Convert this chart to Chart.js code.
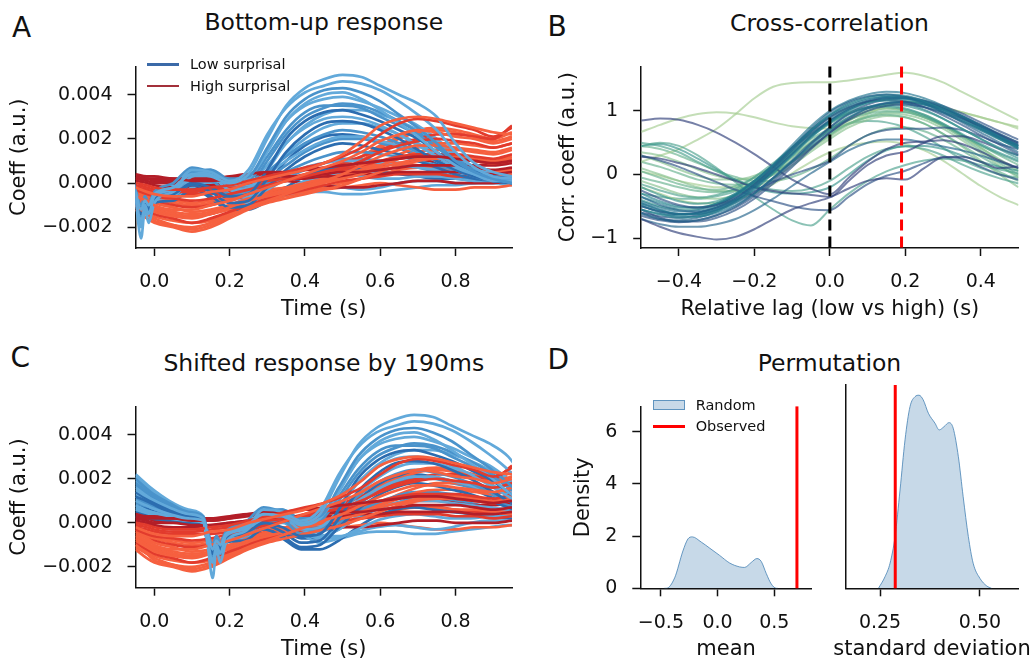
<!DOCTYPE html>
<html>
<head>
<meta charset="utf-8">
<script src="https://cdn.jsdelivr.net/npm/chart.js@4.4.1/dist/chart.umd.min.js"></script>
<style>
  html, body { margin: 0; padding: 0; width: 1032px; height: 659px; overflow: hidden; background: #fff; }
  body { position: relative; font-family: "DejaVu Sans", sans-serif; color: #111; }
  canvas { position: absolute; }
  .txt { position: absolute; white-space: nowrap; line-height: 1; }
  .letter { font-size: 28px; }
  .title { font-size: 23.5px; width: 420px; text-align: center; }
  .leg { font-size: 14.5px; }
  .axlabel { font-size: 21px; width: 300px; text-align: center; }
  .handle { position: absolute; width: 32px; }
</style>
</head>
<body>
<div class="txt letter" style="left:12px;top:13.8px">A</div>
<div class="txt letter" style="left:547.5px;top:13px">B</div>
<div class="txt letter" style="left:10.5px;top:344.3px">C</div>
<div class="txt letter" style="left:547.5px;top:346.3px">D</div>

<div class="txt title" style="left:113.75px;top:11px">Bottom-up response</div>
<div class="txt title" style="left:619.5px;top:12px">Cross-correlation</div>
<div class="txt title" style="left:113.75px;top:352px">Shifted response by 190ms</div>
<div class="txt title" style="left:619.5px;top:352px">Permutation</div>

<canvas id="panelA"></canvas>
<canvas id="panelB"></canvas>
<canvas id="panelC"></canvas>
<canvas id="panelDmean"></canvas>
<canvas id="panelDstd"></canvas>

<!-- legend, panel A -->
<div class="handle" style="left:147px;top:63px;height:2.6px;background:#3b6aa8"></div>
<div class="txt leg" style="left:190px;top:57.4px">Low surprisal</div>
<div class="handle" style="left:147px;top:84.8px;height:2.6px;background:#a3303a"></div>
<div class="txt leg" style="left:190px;top:79.2px">High surprisal</div>

<!-- legend, panel D -->
<div class="handle" style="left:653px;top:400px;height:10px;box-sizing:border-box;background:#c8d9e8;border:1px solid rgba(70,130,180,0.8)"></div>
<div class="txt leg" style="left:695.7px;top:397.6px">Random</div>
<div class="handle" style="left:653px;top:425.2px;height:3px;background:#ff0000"></div>
<div class="txt leg" style="left:695.7px;top:419.4px">Observed</div>

<div class="txt axlabel" style="left:782px;top:637.5px">standard deviation</div>

<script>
// ---- data ----

// time (s) of each sample
const timeLow = [-0.24, -0.2, -0.15, -0.1, -0.06, -0.05, -0.035, -0.025, -0.015, 0, 0.05, 0.1, 0.15, 0.2,
  0.25, 0.3, 0.35, 0.4, 0.45, 0.5, 0.55, 0.6, 0.65, 0.7, 0.75, 0.8, 0.85, 0.9, 0.95];
const timeHigh = [-0.05, -0.02, 0, 0.05, 0.1, 0.15, 0.2, 0.25, 0.3, 0.35, 0.4, 0.45, 0.5, 0.55, 0.6,
  0.65, 0.7, 0.75, 0.8, 0.85, 0.9, 0.95];

// lag (s) that aligns low with high surprisal responses
const peakLag = 0.19;

// response coefficients, one row per subject, in units of 1e-4
const COEFF_UNIT = 1e-4;
const lowSurprisal = [
  [15, 11, 7, 4, 2, -4, -12, -8, -10, -5, -2, 4, 3, 0, 4, 20, 35, 43, 47, 49, 48, 44, 40, 36, 30, 18, 9, 5, 3],
  [10, 7, 4, 2, 1, -6, -18, -10, -14, -6, -3, 6, 5, 1, 6, 22, 34, 41, 44, 46, 45, 42, 37, 31, 24, 14, 7, 3, 2],
  [20, 14, 9, 5, 3, -3, -10, -6, -9, -4, 0, 7, 5, 2, 3, 16, 30, 38, 42, 43, 41, 37, 31, 25, 18, 10, 5, 2, 0],
  [8, 5, 3, 1, 0, -8, -25, -12, -18, -9, -4, 3, 4, -1, 2, 14, 28, 36, 40, 41, 38, 33, 27, 21, 14, 8, 4, 1, 1],
  [12, 9, 5, 3, 2, -5, -14, -9, -12, -7, -5, 0, -2, -6, -5, 6, 20, 28, 32, 33, 31, 28, 24, 20, 14, 9, 5, 3, 2],
  [18, 13, 8, 4, 2, -4, -15, -8, -12, -6, -3, 5, 6, 0, 1, 12, 24, 32, 35, 35, 34, 30, 26, 22, 16, 10, 6, 3, 2],
  [6, 4, 2, 1, 0, -7, -16, -9, -13, -8, -6, 2, 3, -3, -2, 6, 18, 25, 29, 30, 29, 26, 22, 17, 12, 7, 4, 2, 0],
  [14, 10, 6, 3, 1, -4, -11, -7, -10, -6, -4, -1, -4, -9, -8, 2, 14, 22, 27, 28, 27, 24, 20, 15, 10, 6, 3, 1, 0],
  [9, 7, 4, 2, 1, -6, -13, -8, -11, -7, -6, 0, 1, -5, -3, 5, 12, 18, 22, 24, 23, 21, 18, 14, 10, 6, 3, 1, 1],
  [22, 16, 10, 6, 3, -3, -12, -7, -10, -5, -2, 5, 4, -1, -1, 4, 10, 15, 19, 21, 21, 19, 17, 14, 10, 7, 4, 3, 2],
  [5, 3, 1, 0, -1, -8, -17, -10, -14, -9, -8, -3, -6, -11, -10, -2, 6, 12, 16, 18, 17, 15, 13, 10, 7, 4, 2, 1, 0],
  [11, 8, 5, 3, 2, -5, -13, -8, -11, -6, -3, 3, 4, -2, -4, 0, 5, 9, 12, 14, 14, 13, 12, 10, 8, 6, 4, 2, 1],
  [16, 11, 7, 4, 2, -4, -20, -10, -15, -7, -5, 2, 5, -2, -6, -3, 3, 7, 9, 10, 10, 9, 8, 7, 6, 5, 3, 2, 1],
  [7, 5, 3, 1, 0, -9, -15, -9, -12, -8, -7, -2, 0, -5, -9, -7, -3, 1, 3, 4, 3, 2, 2, 3, 3, 2, 1, 1, 0],
  [13, 9, 6, 3, 1, -5, -12, -8, -11, -6, -4, 2, 3, -3, -6, -6, -4, -2, -1, -2, -3, -2, 0, 1, 1, 0, 0, 1, 0],
  [3, 2, 1, 0, -1, -6, -14, -9, -12, -8, -7, -2, -7, -12, -12, -8, -2, 3, 6, 7, 6, 5, 4, 3, 2, 2, 1, 1, 0],
  [10, 7, 4, 2, 0, -7, -18, -11, -15, -9, -7, -1, 1, -4, -7, -7, -5, -4, -4, -5, -5, -4, -3, -2, -1, -1, 0, 0, -1],
  [17, 12, 8, 4, 2, -4, -10, -7, -9, -5, -3, 4, 6, 1, -2, 2, 8, 14, 18, 20, 20, 18, 16, 13, 10, 7, 4, 2, 1],
  [14, 10, 6, 3, 1, -5, -13, -8, -11, -6, -3, 3, 3, -2, -1, 10, 22, 30, 34, 36, 35, 32, 28, 23, 17, 11, 6, 3, 1],
  [19, 14, 9, 5, 2, -4, -11, -7, -10, -5, -2, 4, 4, 0, 2, 15, 28, 35, 38, 39, 37, 34, 30, 26, 20, 13, 7, 4, 2],
  [8, 6, 3, 1, 0, -6, -14, -9, -12, -7, -5, 0, -3, -7, -7, 0, 10, 17, 21, 22, 21, 19, 16, 12, 9, 6, 3, 1, 0],
  [12, 8, 5, 2, 1, -6, -16, -9, -13, -7, -4, 3, 3, -2, -3, 3, 13, 20, 25, 27, 27, 25, 22, 18, 13, 8, 4, 2, 1],
  [6, 4, 2, 1, 0, -7, -15, -9, -12, -7, -5, 1, 2, -4, -6, -3, 2, 6, 9, 11, 11, 10, 9, 7, 5, 3, 2, 1, 0],
  [21, 15, 9, 5, 2, -3, -9, -6, -8, -4, -1, 5, 5, 1, 0, 8, 18, 26, 31, 33, 33, 31, 28, 24, 19, 12, 6, 3, 2]
];
const highSurprisal = [
  [-2, -4, -5, -6, -6, -4, -3, 0, 2, 4, 6, 9, 13, 19, 26, 29, 30, 29, 27, 25, 23, 22],
  [0, -1, -2, -3, -3, -2, -1, 1, 3, 5, 7, 9, 12, 16, 22, 27, 29, 28, 26, 24, 21, 25],
  [-6, -8, -10, -12, -12, -10, -8, -5, -2, 1, 4, 7, 10, 14, 19, 22, 24, 23, 21, 20, 18, 20],
  [3, 2, 2, 2, 1, 1, 2, 4, 5, 5, 6, 7, 8, 9, 10, 11, 12, 12, 11, 10, 9, 10],
  [-10, -14, -16, -19, -21, -19, -15, -11, -8, -5, -2, 1, 4, 8, 12, 15, 17, 17, 16, 15, 14, 16],
  [-3, -5, -6, -7, -8, -7, -5, -3, -1, 1, 3, 5, 7, 10, 14, 17, 19, 20, 19, 18, 16, 18],
  [4, 3, 3, 2, 2, 2, 3, 4, 4, 3, 3, 4, 5, 5, 6, 7, 8, 8, 8, 7, 6, 7],
  [-12, -16, -18, -20, -22, -20, -16, -12, -9, -7, -5, -3, -1, 2, 5, 8, 10, 11, 11, 10, 9, 11],
  [-1, -2, -3, -4, -4, -3, -2, 0, 1, 2, 3, 4, 6, 8, 10, 12, 13, 13, 13, 12, 11, 13],
  [-8, -11, -13, -15, -16, -14, -11, -8, -6, -4, -2, 0, 2, 4, 7, 9, 11, 12, 12, 11, 10, 12],
  [2, 1, 0, 0, -1, -1, 0, 1, 2, 2, 2, 3, 3, 4, 4, 5, 5, 5, 5, 4, 4, 5],
  [-5, -7, -9, -11, -13, -12, -10, -7, -5, -3, -1, 1, 3, 5, 8, 11, 14, 15, 15, 14, 13, 15],
  [-9, -12, -14, -16, -18, -16, -13, -10, -7, -5, -3, -1, 1, 2, 3, 4, 4, 4, 3, 3, 2, 3],
  [-4, -6, -7, -8, -9, -8, -7, -5, -3, -2, 0, 2, 4, 6, 9, 13, 16, 18, 18, 17, 16, 18],
  [1, 0, -1, -2, -2, -1, 0, 1, 2, 1, 0, -1, -2, -2, -1, 0, 1, 1, 0, 0, 0, 1],
  [-7, -10, -12, -14, -15, -14, -12, -9, -7, -5, -4, -3, -2, -1, 0, -1, -2, -3, -3, -2, -2, -1],
  [-2, -3, -4, -5, -5, -5, -4, -2, 0, 2, 4, 6, 9, 12, 15, 18, 20, 22, 22, 21, 20, 26],
  [-11, -14, -17, -19, -20, -18, -14, -10, -6, -3, 0, 2, 5, 7, 9, 9, 8, 6, 5, 4, 3, 4],
  [-6, -9, -11, -13, -14, -13, -10, -7, -4, -2, 0, 3, 6, 10, 16, 20, 23, 24, 23, 21, 19, 21],
  [-4, -6, -8, -10, -11, -10, -8, -6, -4, -2, 0, 2, 4, 6, 9, 11, 12, 12, 11, 10, 9, 10],
  [2, 2, 1, 1, 1, 1, 2, 3, 4, 5, 6, 6, 6, 7, 8, 9, 10, 10, 9, 8, 8, 9],
  [-10, -13, -15, -17, -18, -17, -14, -11, -8, -6, -4, -2, 0, 2, 4, 6, 7, 7, 6, 6, 5, 6],
  [-3, -5, -7, -9, -10, -9, -7, -4, -1, 1, 3, 5, 8, 12, 17, 21, 24, 25, 24, 22, 20, 23],
  [-7, -10, -12, -14, -15, -14, -11, -8, -5, -3, -1, 1, 3, 5, 6, 7, 7, 7, 6, 5, 5, 6]
];

// relative lag (s) and cross-correlation per subject
const lags = [-0.5, -0.45, -0.4, -0.35, -0.3, -0.25, -0.2, -0.15, -0.1, -0.05, 0, 0.05, 0.1, 0.15, 0.2,
  0.25, 0.3, 0.35, 0.4, 0.45, 0.5];
const crossCorr = [
  [-0.45, -0.55, -0.62, -0.62, -0.55, -0.4, -0.18, 0.08, 0.38, 0.68, 0.92, 1.08, 1.18, 1.22, 1.2, 1.12, 1.0, 0.86, 0.72, 0.58, 0.45],
  [-0.35, -0.48, -0.56, -0.58, -0.52, -0.38, -0.15, 0.12, 0.42, 0.72, 0.98, 1.14, 1.23, 1.26, 1.22, 1.12, 0.98, 0.82, 0.66, 0.5, 0.35],
  [-0.55, -0.63, -0.68, -0.66, -0.58, -0.44, -0.24, 0.02, 0.3, 0.58, 0.82, 1.0, 1.12, 1.18, 1.17, 1.1, 0.98, 0.84, 0.7, 0.55, 0.42],
  [-0.25, -0.38, -0.48, -0.52, -0.48, -0.36, -0.16, 0.1, 0.38, 0.66, 0.9, 1.06, 1.15, 1.18, 1.15, 1.06, 0.93, 0.78, 0.62, 0.47, 0.32],
  [-0.6, -0.7, -0.74, -0.72, -0.64, -0.5, -0.3, -0.05, 0.22, 0.5, 0.74, 0.94, 1.06, 1.12, 1.12, 1.06, 0.96, 0.84, 0.7, 0.56, 0.42],
  [-0.42, -0.52, -0.58, -0.56, -0.48, -0.32, -0.1, 0.16, 0.46, 0.76, 1.0, 1.16, 1.26, 1.3, 1.28, 1.2, 1.08, 0.92, 0.76, 0.6, 0.45],
  [-0.65, -0.72, -0.75, -0.72, -0.64, -0.52, -0.34, -0.1, 0.16, 0.42, 0.66, 0.86, 1.0, 1.08, 1.1, 1.06, 0.98, 0.88, 0.76, 0.63, 0.5],
  [-0.3, -0.42, -0.5, -0.52, -0.46, -0.32, -0.12, 0.14, 0.42, 0.7, 0.94, 1.1, 1.2, 1.24, 1.22, 1.14, 1.02, 0.88, 0.72, 0.56, 0.4],
  [-0.5, -0.58, -0.62, -0.6, -0.52, -0.38, -0.18, 0.06, 0.32, 0.6, 0.84, 1.02, 1.14, 1.2, 1.2, 1.14, 1.04, 0.92, 0.78, 0.64, 0.5],
  [-0.48, -0.6, -0.66, -0.66, -0.6, -0.48, -0.3, -0.06, 0.2, 0.46, 0.7, 0.9, 1.04, 1.12, 1.14, 1.1, 1.02, 0.9, 0.76, 0.6, 0.45],
  [-0.4, -0.5, -0.55, -0.54, -0.46, -0.33, -0.14, 0.1, 0.35, 0.6, 0.8, 0.96, 1.06, 1.1, 1.08, 1.0, 0.88, 0.72, 0.56, 0.4, 0.25],
  [-0.55, -0.68, -0.74, -0.74, -0.68, -0.56, -0.38, -0.14, 0.12, 0.4, 0.66, 0.88, 1.04, 1.12, 1.14, 1.1, 1.02, 0.9, 0.76, 0.62, 0.48],
  [-0.35, -0.45, -0.52, -0.52, -0.45, -0.3, -0.1, 0.15, 0.42, 0.68, 0.9, 1.05, 1.14, 1.16, 1.12, 1.02, 0.88, 0.72, 0.56, 0.42, 0.3],
  [-0.62, -0.7, -0.72, -0.68, -0.58, -0.42, -0.2, 0.06, 0.34, 0.62, 0.86, 1.04, 1.16, 1.22, 1.22, 1.16, 1.06, 0.92, 0.78, 0.62, 0.46],
  [-0.45, -0.56, -0.62, -0.62, -0.55, -0.42, -0.22, 0.04, 0.32, 0.6, 0.84, 1.02, 1.14, 1.2, 1.2, 1.14, 1.04, 0.9, 0.74, 0.58, 0.42],
  [-0.55, -0.62, -0.64, -0.6, -0.5, -0.34, -0.12, 0.14, 0.42, 0.7, 0.94, 1.12, 1.22, 1.26, 1.24, 1.16, 1.04, 0.9, 0.74, 0.58, 0.44],
  [-0.6, -0.66, -0.68, -0.64, -0.56, -0.44, -0.28, -0.06, 0.2, 0.48, 0.74, 0.96, 1.1, 1.18, 1.2, 1.16, 1.08, 0.96, 0.82, 0.68, 0.55],
  [0.85, 0.88, 0.86, 0.78, 0.66, 0.5, 0.32, 0.12, -0.08, -0.22, -0.31, -0.05, 0.2, 0.4, 0.5, 0.52, 0.54, 0.48, 0.36, 0.22, 0.1],
  [-0.7, -0.82, -0.92, -0.98, -1.02, -0.98, -0.86, -0.7, -0.55, -0.45, -0.36, -0.22, -0.1, -0.06, -0.08, 0.1, 0.27, 0.28, 0.2, 0.1, 0.13],
  [0.3, 0.22, 0.12, 0.0, -0.12, -0.24, -0.34, -0.42, -0.5, -0.55, -0.56, -0.35, -0.15, -0.02, 0.06, 0.18, 0.27, 0.25, 0.12, 0.0, -0.08],
  [-0.5, -0.58, -0.62, -0.6, -0.52, -0.4, -0.26, -0.12, 0.0, 0.1, 0.22, 0.45, 0.62, 0.7, 0.72, 0.72, 0.74, 0.7, 0.6, 0.48, 0.4],
  [0.28, 0.25, 0.18, 0.1, 0.0, -0.1, -0.2, -0.26, -0.3, -0.32, -0.35, -0.1, 0.15, 0.3, 0.36, 0.5, 0.6, 0.6, 0.52, 0.4, 0.3],
  [-0.7, -0.78, -0.82, -0.82, -0.78, -0.7, -0.56, -0.38, -0.18, 0.02, 0.2, 0.38, 0.5, 0.55, 0.55, 0.5, 0.44, 0.38, 0.3, 0.2, 0.1],
  [-0.2, -0.32, -0.42, -0.46, -0.42, -0.3, -0.1, 0.14, 0.4, 0.64, 0.84, 0.98, 1.06, 1.08, 1.04, 0.94, 0.8, 0.64, 0.48, 0.34, 0.22],
  [-0.15, -0.25, -0.33, -0.36, -0.32, -0.22, -0.04, 0.18, 0.42, 0.64, 0.82, 0.96, 1.04, 1.06, 1.02, 0.92, 0.78, 0.62, 0.46, 0.32, 0.2],
  [0.45, 0.5, 0.45, 0.3, 0.1, -0.12, -0.35, -0.55, -0.72, -0.8, -0.55, -0.3, -0.1, 0.05, 0.15, 0.22, 0.25, 0.22, 0.15, 0.08, 0.02],
  [0.45, 0.48, 0.4, 0.25, 0.08, -0.08, -0.2, -0.28, -0.3, -0.28, -0.2, 0.0, 0.22, 0.38, 0.45, 0.45, 0.4, 0.3, 0.2, 0.12, 0.06],
  [0.5, 0.45, 0.35, 0.2, 0.05, -0.08, -0.18, -0.24, -0.26, -0.22, -0.1, 0.1, 0.28, 0.4, 0.44, 0.4, 0.3, 0.16, 0.04, -0.06, -0.14],
  [0.05, -0.05, -0.15, -0.22, -0.24, -0.18, -0.05, 0.14, 0.36, 0.56, 0.72, 0.86, 0.96, 1.0, 0.98, 0.9, 0.78, 0.62, 0.46, 0.3, 0.15],
  [-0.05, -0.12, -0.2, -0.26, -0.28, -0.24, -0.14, 0.02, 0.22, 0.44, 0.64, 0.8, 0.9, 0.94, 0.9, 0.8, 0.64, 0.46, 0.28, 0.12, -0.02],
  [0.35, 0.3, 0.2, 0.08, -0.02, -0.08, -0.06, 0.04, 0.2, 0.4, 0.6, 0.78, 0.9, 0.96, 0.94, 0.86, 0.72, 0.54, 0.34, 0.14, -0.05],
  [0.2, 0.3, 0.4, 0.55, 0.72, 0.95, 1.2, 1.38, 1.44, 1.45, 1.45, 1.48, 1.52, 1.57, 1.6, 1.55, 1.45, 1.3, 1.15, 1.0, 0.85],
  [0.67, 0.78, 0.88, 0.95, 0.98, 0.96, 0.9, 0.82, 0.76, 0.73, 0.72, 0.8, 0.95, 1.08, 1.15, 1.12, 1.05, 0.98, 0.9, 0.82, 0.72],
  [0.3, 0.2, 0.08, -0.02, -0.08, -0.08, -0.02, 0.12, 0.32, 0.52, 0.7, 0.86, 0.98, 1.04, 1.02, 0.94, 0.8, 0.62, 0.42, 0.22, 0.05],
  [0.1, 0.0, -0.1, -0.2, -0.26, -0.26, -0.2, -0.06, 0.14, 0.36, 0.56, 0.74, 0.86, 0.92, 0.9, 0.8, 0.64, 0.44, 0.22, 0.0, -0.2],
  [-0.2, -0.3, -0.4, -0.45, -0.45, -0.4, -0.3, -0.15, 0.02, 0.2, 0.35, 0.45, 0.5, 0.52, 0.48, 0.38, 0.22, 0.02, -0.18, -0.35, -0.48],
  [0.45, 0.4, 0.3, 0.18, 0.06, -0.04, -0.1, -0.1, -0.04, 0.08, 0.25, 0.45, 0.62, 0.72, 0.74, 0.68, 0.55, 0.38, 0.2, 0.04, -0.1],
  [-0.1, -0.2, -0.3, -0.36, -0.38, -0.32, -0.18, 0.02, 0.26, 0.5, 0.72, 0.9, 1.0, 1.04, 1.0, 0.9, 0.76, 0.6, 0.42, 0.24, 0.08],
  [0.2, 0.12, 0.02, -0.08, -0.14, -0.16, -0.12, 0.0, 0.2, 0.42, 0.62, 0.8, 0.92, 0.98, 0.98, 0.9, 0.76, 0.58, 0.38, 0.18, 0.0],
  [0.05, -0.02, -0.1, -0.16, -0.2, -0.2, -0.14, 0.0, 0.2, 0.42, 0.64, 0.84, 1.0, 1.1, 1.14, 1.12, 1.06, 0.98, 0.9, 0.82, 0.75],
  [-0.3, -0.35, -0.38, -0.38, -0.34, -0.26, -0.12, 0.06, 0.28, 0.5, 0.68, 0.8, 0.84, 0.82, 0.74, 0.6, 0.42, 0.24, 0.1, 0.0, -0.05]
];

// permutation test: density of the random statistics and the observed value
const meanGrid = [-0.47, -0.452, -0.379, -0.306, -0.262, -0.223, -0.144, -0.07, 0.018, 0.106, 0.194, 0.238,
  0.297, 0.347, 0.385, 0.429, 0.473, 0.518, 0.53];
const meanDensity = [0, 0, 0.4, 1.43, 1.89, 1.97, 1.77, 1.54, 1.26, 0.97, 0.82, 0.8, 0.99, 1.14, 1.03, 0.57, 0.17, 0, 0];
const stdGrid = [0.246, 0.2625, 0.275, 0.2875, 0.3, 0.3125, 0.325, 0.3375, 0.3475, 0.358, 0.371, 0.3875,
  0.398, 0.41, 0.4225, 0.433, 0.446, 0.458, 0.471, 0.483, 0.5, 0.517, 0.529];
const stdDensity = [0, 0.4, 0.86, 1.77, 3.37, 5.09, 6.23, 6.57, 6.62, 6.46, 6.0, 5.66, 5.43, 5.54, 5.68, 5.49,
  4.51, 3.14, 1.77, 0.86, 0.34, 0.08, 0];
const observedMean = 0.70;
const observedStd = 0.288;

// ---- styling ----
const INK = '#111';
const blues = ['#62a9da', '#4a93cb', '#2c6db0'];
const reds = ['#f6603f', '#e23b2d', '#b31e28'];
const lowShade = [0, 0, 1, 0, 2, 1, 0, 2, 1, 0, 2, 1, 0, 0, 0, 2, 0, 1, 1, 0, 2, 0, 1, 0];
const highShade = [0, 1, 0, 2, 0, 1, 2, 0, 1, 0, 2, 0, 1, 0, 2, 0, 1, 0, 0, 1, 2, 0, 0, 1];
const crest = ['#a5cd90', '#86c08e', '#66b18e', '#4da28e', '#37938e', '#27838f', '#1f728e', '#22628a', '#2a4f83', '#2d3c78'];
const corrShade = [6, 7, 5, 8, 7, 6, 8, 5, 7, 6, 4, 8, 5, 7, 6, 5, 8,
  9, 9, 8, 8, 9, 7, 4, 3, 3, 4, 3, 2, 2, 1, 0, 0, 1, 1, 0, 2, 1, 2, 0, 3];

Chart.defaults.font.family = '"DejaVu Sans", sans-serif';
Chart.defaults.color = INK;

const minusSign = s => s.replace('-', '\u2212');
const fixed = d => v => minusSign(v.toFixed(d));

// vertical reference lines spanning the whole plot height
const vLinePlugin = {
  id: 'vLines',
  afterDatasetsDraw(chart, args, opts) {
    const { ctx, chartArea, scales } = chart;
    (opts.lines || []).forEach(l => {
      const px = scales.x.getPixelForValue(l.value);
      ctx.save();
      ctx.strokeStyle = l.color;
      ctx.lineWidth = l.width;
      ctx.setLineDash(l.dash || []);
      ctx.beginPath();
      ctx.moveTo(px, chartArea.top);
      ctx.lineTo(px, chartArea.bottom);
      ctx.stroke();
      ctx.restore();
    });
  }
};

function axis(o) {
  const left = o.position === 'left';
  return {
    type: 'linear',
    position: o.position,
    min: o.min,
    max: o.max,
    afterBuildTicks: s => { s.ticks = o.ticks.map(v => ({ value: v })); },
    afterFit: s => { if (left) s.width = o.size; else s.height = o.size; },
    ticks: {
      display: !o.hideTicks, callback: o.format, font: { size: 19 }, color: INK,
      padding: 15, maxRotation: 0, autoSkip: false
    },
    grid: { drawOnChartArea: false, drawTicks: !o.hideTicks, tickLength: 8, tickWidth: 1.5, tickColor: INK },
    border: { display: true, color: INK, width: 1.5 },
    title: { display: !!o.title, text: o.title || '', font: { size: 21 }, color: INK, padding: 0 }
  };
}

// box: canvas rectangle on the page, area: plot rectangle on the page
function panel(id, box, area, datasets, xOpts, yOpts, lines) {
  const canvas = document.getElementById(id);
  canvas.width = box.w;
  canvas.height = box.h;
  canvas.style.left = box.x + 'px';
  canvas.style.top = box.y + 'px';
  xOpts.position = 'bottom';
  xOpts.size = box.y + box.h - area.bottom;
  yOpts.position = 'left';
  yOpts.size = area.left - box.x;
  return new Chart(canvas, {
    type: 'line',
    data: { datasets },
    options: {
      responsive: false,
      animation: false,
      events: [],
      layout: { padding: { left: 0, bottom: 0, top: area.top - box.y, right: box.x + box.w - area.right } },
      elements: { point: { radius: 0 } },
      plugins: { legend: { display: false }, tooltip: { enabled: false }, vLines: { lines: lines || [] } },
      scales: { x: axis(xOpts), y: axis(yOpts) }
    },
    plugins: [vLinePlugin]
  });
}

function trace(times, values, shift, unit, color, width) {
  return {
    data: values.map((v, j) => ({ x: times[j] + shift, y: v * unit })),
    borderColor: color,
    borderWidth: width,
    cubicInterpolationMode: 'monotone',
    fill: false,
    pointRadius: 0
  };
}

// low and high surprisal traces, interleaved so neither group sits fully on top
function responseSets(lowShift) {
  const sets = [];
  const n = Math.max(lowSurprisal.length, highSurprisal.length);
  for (let i = 0; i < n; i++) {
    if (highSurprisal[i]) sets.push(trace(timeHigh, highSurprisal[i], 0, COEFF_UNIT, reds[highShade[i]], 2.7));
    if (lowSurprisal[i]) sets.push(trace(timeLow, lowSurprisal[i], lowShift, COEFF_UNIT, blues[lowShade[i]], 2.7));
  }
  return sets;
}

function hexAlpha(hex, a) {
  const n = parseInt(hex.slice(1), 16);
  return `rgba(${n >> 16}, ${(n >> 8) & 255}, ${n & 255}, ${a})`;
}

function densitySet(grid, dens) {
  return {
    data: grid.map((g, j) => ({ x: g, y: dens[j] })),
    borderColor: 'rgba(70, 130, 180, 0.8)',
    borderWidth: 1,
    backgroundColor: 'rgba(70, 130, 180, 0.3)',
    fill: 'origin',
    cubicInterpolationMode: 'monotone',
    pointRadius: 0
  };
}

const timeTicks = [0, 0.2, 0.4, 0.6, 0.8];
const coeffTicks = [-0.002, 0, 0.002, 0.004];

// A: bottom-up response
panel('panelA', { x: 7, y: 40, w: 516, h: 282 }, { left: 135.5, top: 45, right: 512, bottom: 248 },
  responseSets(0),
  { min: -0.05, max: 0.95, ticks: timeTicks, format: fixed(1), title: 'Time (s)' },
  { min: -0.00294, max: 0.00528, ticks: coeffTicks, format: fixed(3), title: 'Coeff (a.u.)' });

// B: cross-correlation
panel('panelB', { x: 555.5, y: 40, w: 475, h: 282 }, { left: 640.7, top: 45, right: 1018, bottom: 248 },
  crossCorr.map((row, i) => trace(lags, row, 0, 1, hexAlpha(crest[corrShade[i]], 0.65), 2)),
  { min: -0.5, max: 0.5, ticks: [-0.4, -0.2, 0, 0.2, 0.4], format: fixed(1), title: 'Relative lag (low vs high) (s)' },
  { min: -1.155, max: 1.7, ticks: [-1, 0, 1], format: fixed(0), title: 'Corr. coeff (a.u.)' },
  [{ value: 0, color: '#000', width: 3, dash: [11, 6] },
   { value: peakLag, color: '#ff0000', width: 3, dash: [11, 6] }]);

// C: response with low surprisal shifted by the peak lag
panel('panelC', { x: 7, y: 380, w: 516, h: 282 }, { left: 135.5, top: 385, right: 512, bottom: 587.7 },
  responseSets(peakLag),
  { min: -0.05, max: 0.95, ticks: timeTicks, format: fixed(1), title: 'Time (s)' },
  { min: -0.00294, max: 0.00528, ticks: coeffTicks, format: fixed(3), title: 'Coeff (a.u.)' });

// D: permutation distributions
panel('panelDmean', { x: 571.4, y: 380, w: 449, h: 282 }, { left: 640.7, top: 385, right: 812.3, bottom: 588.3 },
  [densitySet(meanGrid, meanDensity)],
  { min: -0.682, max: 0.832, ticks: [-0.5, 0, 0.5], format: fixed(1), title: 'mean' },
  { min: 0, max: 6.97, ticks: [0, 2, 4, 6], format: fixed(0), title: 'Density' },
  [{ value: observedMean, color: '#ff0000', width: 3 }]);

panel('panelDstd', { x: 830, y: 380, w: 202, h: 282 }, { left: 845.7, top: 385, right: 1018.3, bottom: 588.3 },
  [densitySet(stdGrid, stdDensity)],
  { min: 0.164, max: 0.596, ticks: [0.25, 0.5], format: fixed(2) },
  { min: 0, max: 6.97, ticks: [0, 2, 4, 6], format: fixed(0), hideTicks: true },
  [{ value: observedStd, color: '#ff0000', width: 3 }]);
</script>
</body>
</html>
